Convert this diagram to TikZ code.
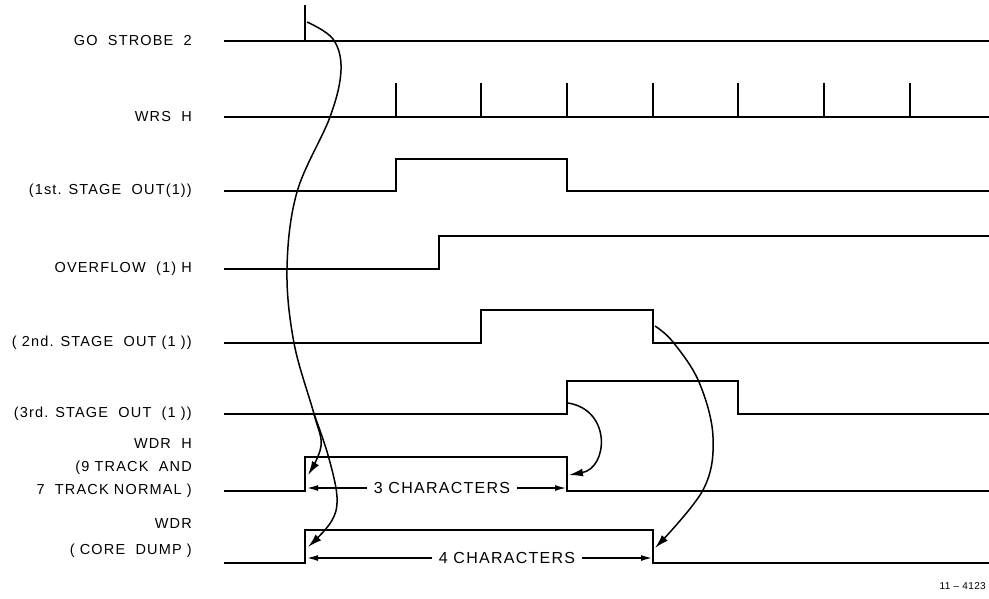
\documentclass[tikz,border=0pt]{standalone}
\usepackage{fontspec}
\setmainfont{Liberation Sans}[LetterSpace=8]
\usetikzlibrary{arrows.meta}
\begin{document}
\begin{tikzpicture}[x=1pt,y=-1pt,
  sig/.style={line width=2.8pt},
  lab/.style={anchor=east, align=right, inner sep=0pt, font=\fontsize{14.5}{23}\selectfont},
  dimtext/.style={inner xsep=7pt, inner ysep=0pt, font=\fontsize{16}{18}\selectfont},
  arc/.style={line width=1.5pt, -{Latex[length=14pt,width=8pt]}},
  dim/.style={line width=1.4pt, -{Latex[length=11pt,width=6pt]}}]
\useasboundingbox (0,0) rectangle (989,598);
% labels
\node[lab] (l1) at (192,41) {GO\ \ STROBE\ \ 2};
\node[lab] (l2) at (192,117) {WRS\ \ H};
\node[lab] (l3) at (192,191) {(1st. STAGE\ \ OUT(1))};
\node[lab] (l4) at (192,269) {OVERFLOW\ \ (1)\ H};
\node[lab] (l5) at (192,343) {( 2nd. STAGE\ \ OUT (1 ))};
\node[lab] (l6) at (192,414) {(3rd. STAGE\ \ OUT\ \ (1 ))};
\node[lab, anchor=north east] (l7) at (192,438) {WDR\ \ H\\(9 TRACK\ \ AND\\7\ \ TRACK NORMAL )};
\node[lab, anchor=north east, font=\fontsize{14.5}{26}\selectfont] (l8) at (192,518) {WDR\\( CORE\ \ DUMP )};
% signals
\draw[sig] (224,41) -- (989,41);
\draw[sig] (305,41) -- (305,5);
\draw[sig] (224,117) -- (989,117);
\foreach \x in {396,481,567,653,738,824,910} \draw[sig] (\x,117) -- (\x,83);
\draw[sig] (224,191) -| (396,159) -| (567,191) -- (989,191);
\draw[sig] (224,269) -| (439,236) -- (989,236);
\draw[sig] (224,343) -| (481,310) -| (653,343) -- (989,343);
\draw[sig] (224,414) -| (567,381) -| (738,414) -- (989,414);
\draw[sig] (224,491) -| (305,457) -| (567,491) -- (989,491);
\draw[sig] (224,563) -| (305,530) -| (653,563) -- (989,563);
% curve anchors
\coordinate (gs) at (307,22);
\coordinate (wdrh) at (308,475);
\coordinate (wdrc) at (308,547);
\coordinate (s3) at (568,403);
\coordinate (wdrhf) at (569,475);
\coordinate (s2) at (655,326);
\coordinate (wdrcf) at (655,548);
\draw[arc] plot[smooth, tension=0.6] coordinates {(gs) (333,39) (341,70) (330,117) (297,192) (287,269) (294,343) (314,414) (321,446) (wdrh)};
\draw[arc] plot[smooth, tension=0.6] coordinates {(314,414) (328,455) (337,497) (331,522) (wdrc)};
\draw[arc] (s3) .. controls (612,410) and (608,468) .. (wdrhf);
\draw[arc] plot[smooth, tension=0.6] coordinates {(s2) (673,342) (699,382) (713,437) (703,490) (wdrcf)};
% dimension labels
\node[dimtext] (c3) at (442,488) {3 CHARACTERS};
\coordinate (c3l) at (307,488);
\coordinate (c3r) at (566,488);
\draw[dim] (c3.west) -- (c3l);
\draw[dim] (c3.east) -- (c3r);
\node[dimtext] (c4) at (507,558) {4 CHARACTERS};
\coordinate (c4l) at (307,558);
\coordinate (c4r) at (652,558);
\draw[dim] (c4.west) -- (c4l);
\draw[dim] (c4.east) -- (c4r);
\node[anchor=east, inner sep=0pt, font=\fontsize{10}{12}\selectfont\addfontfeatures{LetterSpace=4}] (fig) at (986,586) {11 -- 4123};
\end{tikzpicture}
\end{document}
